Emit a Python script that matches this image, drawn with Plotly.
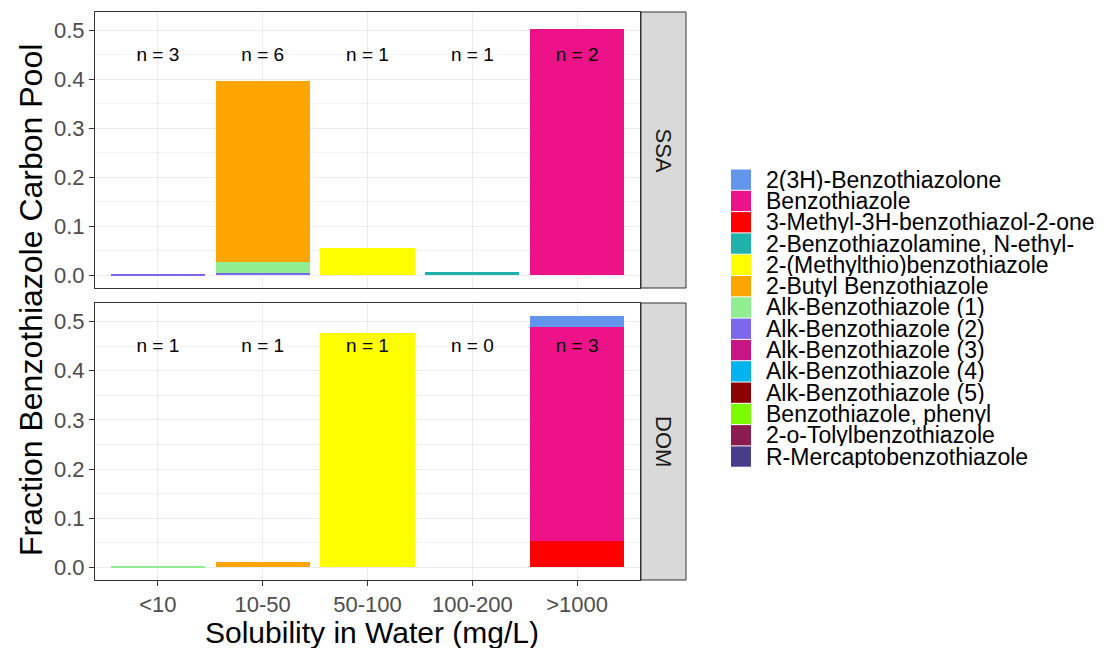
import plotly.graph_objects as go

# ---------------- data ----------------
CATEGORIES = ["<10", "10-50", "50-100", "100-200", ">1000"]
FACETS = ["SSA", "DOM"]

COMPOUNDS = [
    "2(3H)-Benzothiazolone",
    "Benzothiazole",
    "3-Methyl-3H-benzothiazol-2-one",
    "2-Benzothiazolamine, N-ethyl-",
    "2-(Methylthio)benzothiazole",
    "2-Butyl Benzothiazole",
    "Alk-Benzothiazole (1)",
    "Alk-Benzothiazole (2)",
    "Alk-Benzothiazole (3)",
    "Alk-Benzothiazole (4)",
    "Alk-Benzothiazole (5)",
    "Benzothiazole, phenyl",
    "2-o-Tolylbenzothiazole",
    "R-Mercaptobenzothiazole",
]
COLORS = [
    "#6495ED", "#EE1289", "#FF0000", "#20B2AA", "#FFFF00", "#FFA500",
    "#90EE90", "#7B68EE", "#C71585", "#00B2EE", "#8B0000", "#7CFC00",
    "#8B1C4F", "#483D8B",
]

# long-format segments (fraction of benzothiazole carbon pool)
SSA_CATEGORY = ["<10", "10-50", "10-50", "10-50", "50-100", "100-200", ">1000"]
SSA_COMPOUND = ["Alk-Benzothiazole (2)", "Alk-Benzothiazole (2)", "Alk-Benzothiazole (1)",
                "2-Butyl Benzothiazole", "2-(Methylthio)benzothiazole",
                "2-Benzothiazolamine, N-ethyl-", "Benzothiazole"]
SSA_VALUE = [0.002, 0.005, 0.023, 0.368, 0.056, 0.007, 0.502]

DOM_CATEGORY = ["<10", "10-50", "50-100", ">1000", ">1000", ">1000"]
DOM_COMPOUND = ["Alk-Benzothiazole (1)", "2-Butyl Benzothiazole", "2-(Methylthio)benzothiazole",
                "3-Methyl-3H-benzothiazol-2-one", "Benzothiazole", "2(3H)-Benzothiazolone"]
DOM_VALUE = [0.002, 0.012, 0.476, 0.053, 0.435, 0.024]

SSA_N = [3, 6, 1, 1, 2]
DOM_N = [1, 1, 1, 0, 3]
N_LABEL_Y = 0.448

Y_TICKS = [0.0, 0.1, 0.2, 0.3, 0.4, 0.5]

# ---------------- layout geometry ----------------
# page body has an 8px margin, so the figure is drawn 8px smaller
OFF = 8
W, H = 1109 - OFF, 649 - OFF
PANEL_L, PANEL_R, STRIP_R = 95, 640, 686      # reference-pixel positions
TOP_T, TOP_B, BOT_T, BOT_B = 12, 288, 303, 580
ML, MT = PANEL_L - OFF, TOP_T - OFF
MR, MB = W - (STRIP_R - OFF), H - (BOT_B - OFF)
PW, PH = STRIP_R - PANEL_L, BOT_B - TOP_T


def px_x(x):
    return (x - PANEL_L) / PW


def px_y(y):
    return (BOT_B - y) / PH


FONT = "Liberation Sans, Arial, Helvetica, sans-serif"
fig = go.Figure()

facet_data = {
    "SSA": (SSA_CATEGORY, SSA_COMPOUND, SSA_VALUE, SSA_N, "x", "y"),
    "DOM": (DOM_CATEGORY, DOM_COMPOUND, DOM_VALUE, DOM_N, "x2", "y2"),
}

for facet in FACETS:
    cats, comps, vals, ns, xa, ya = facet_data[facet]
    # ggplot stacks the first factor level on top -> add last levels first
    for comp, col in reversed(list(zip(COMPOUNDS, COLORS))):
        xs = [c for c, p in zip(cats, comps) if p == comp]
        ys = [v for v, p in zip(vals, comps) if p == comp]
        if not xs:
            continue
        fig.add_trace(go.Bar(
            x=xs, y=ys, name=comp, marker=dict(color=col, line=dict(width=0)),
            width=0.9, xaxis=xa, yaxis=ya, showlegend=False,
            hovertemplate=comp + ": %{y:.3f}<extra></extra>",
        ))
    fig.add_trace(go.Scatter(
        x=CATEGORIES, y=[N_LABEL_Y] * len(CATEGORIES),
        text=[f"n = {n}" for n in ns], mode="text",
        textfont=dict(family=FONT, size=19, color="black"),
        xaxis=xa, yaxis=ya, showlegend=False, hoverinfo="skip",
    ))

top_dom = [px_y(TOP_B), 1.0]
bot_dom = [0.0, px_y(BOT_T)]
x_dom = [0.0, px_x(PANEL_R)]

yrange = [-0.0256, 0.5376]
common_y = dict(
    range=yrange, tickvals=Y_TICKS, ticktext=[f"{v:.1f}" for v in Y_TICKS],
    showgrid=True, gridcolor="#EBEBEB", gridwidth=1.2,
    minor=dict(dtick=0.05, tick0=0.05, showgrid=True, gridcolor="#F2F2F2", gridwidth=0.6),
    zeroline=False, showline=True, mirror=True, linecolor="#333333", linewidth=1,
    ticks="outside", ticklen=5, tickcolor="#333333", tickwidth=1,
    tickfont=dict(family=FONT, size=22, color="#4D4D4D"),
)
common_x = dict(
    type="category", categoryorder="array", categoryarray=CATEGORIES,
    range=[-0.6, 4.6], domain=x_dom,
    showgrid=True, gridcolor="#EBEBEB", gridwidth=1.2,
    zeroline=False, showline=True, mirror=True, linecolor="#333333", linewidth=1,
)

fig.update_layout(
    width=W, height=H, barmode="stack", bargap=0,
    plot_bgcolor="white", paper_bgcolor="white",
    margin=dict(l=ML, r=MR, t=MT, b=MB, autoexpand=False),
    font=dict(family=FONT, color="black"),
    xaxis=dict(common_x, anchor="y", showticklabels=False, ticks=""),
    yaxis=dict(common_y, domain=top_dom, anchor="x"),
    xaxis2=dict(common_x, anchor="y2", ticks="outside", ticklen=5, tickcolor="#333333",
                tickfont=dict(family=FONT, size=22, color="#4D4D4D")),
    yaxis2=dict(common_y, domain=bot_dom, anchor="x2"),
    showlegend=False,
)

# axis titles
fig.add_annotation(
    text="Fraction Benzothiazole Carbon Pool", xref="paper", yref="paper",
    x=px_x(31), y=px_y(300), xanchor="center", yanchor="middle",
    textangle=-90, showarrow=False,
    font=dict(family=FONT, size=32, color="black"),
)
fig.add_annotation(
    text="Solubility in Water (mg/L)", xref="paper", yref="paper",
    x=px_x(372), y=px_y(632), xanchor="center", yanchor="middle",
    height=32, borderpad=0,
    showarrow=False, font=dict(family=FONT, size=30, color="black"),
)

# facet strips
for facet, dom in zip(FACETS, [top_dom, bot_dom]):
    fig.add_shape(type="rect", xref="paper", yref="paper",
                  x0=px_x(PANEL_R + 1), x1=px_x(STRIP_R), y0=dom[0], y1=dom[1],
                  fillcolor="#D9D9D9", line=dict(color="#333333", width=1), layer="below")
    fig.add_annotation(text=facet, xref="paper", yref="paper",
                       x=px_x(663.5), y=(dom[0] + dom[1]) / 2, textangle=90,
                       xanchor="center", yanchor="middle",
                       showarrow=False, font=dict(family=FONT, size=22, color="#1A1A1A"))

# legend (drawn from the compound / colour lists)
KEY_TOP, KEY_H = 169.0, 21.3
for i, (comp, col) in enumerate(zip(COMPOUNDS, COLORS)):
    y0 = KEY_TOP + i * KEY_H
    fig.add_shape(type="rect", xref="paper", yref="paper",
                  x0=px_x(731), x1=px_x(751), y0=px_y(y0 + KEY_H - 0.5), y1=px_y(y0 + 0.5),
                  fillcolor=col, line=dict(width=0))
    fig.add_annotation(text=comp, xref="paper", yref="paper",
                       x=px_x(765), y=px_y(y0 + KEY_H / 2), xanchor="left", yanchor="middle",
                       height=22, showarrow=False, borderpad=0,
                       font=dict(family=FONT, size=23, color="black"))

fig.write_html("out.html")
